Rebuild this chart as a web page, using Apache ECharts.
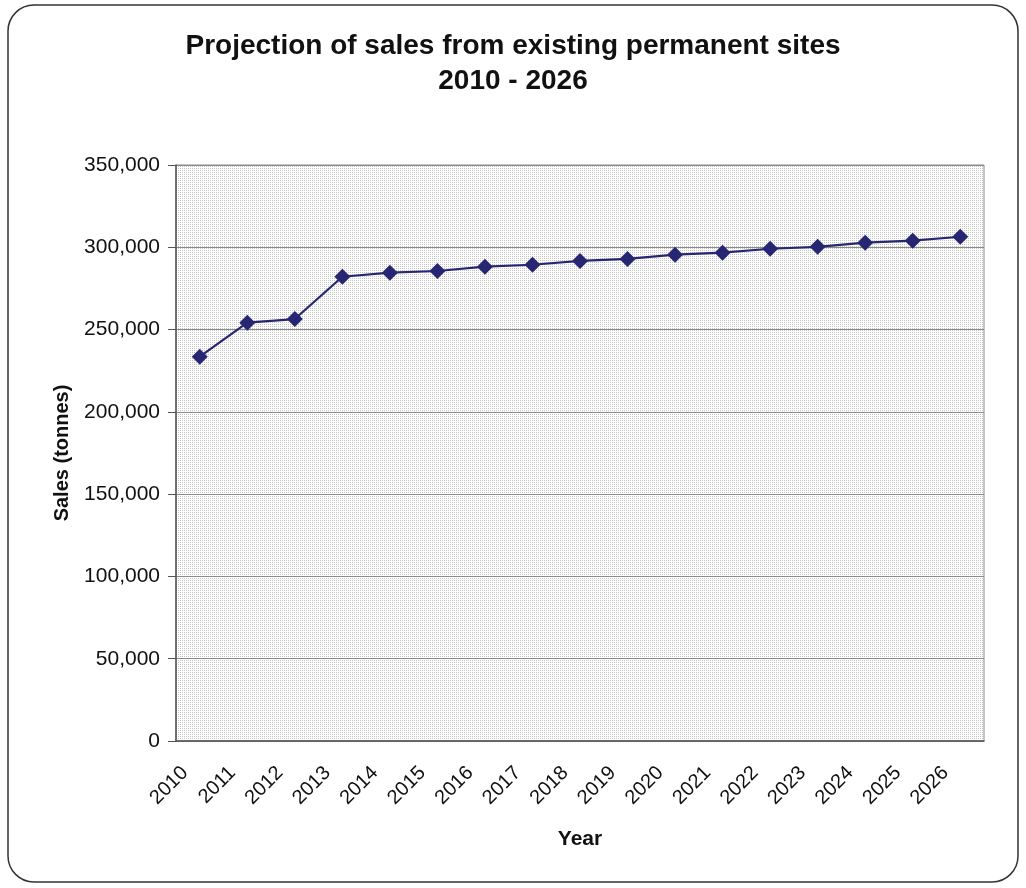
<!DOCTYPE html>
<html>
<head>
<meta charset="utf-8">
<title>Projection of sales from existing permanent sites</title>
<script src="https://cdn.jsdelivr.net/npm/echarts@6/dist/echarts.min.js"></script>
<style>
  html, body { margin: 0; padding: 0; background: #fff; }
  #chart { width: 1026px; height: 888px; }
</style>
</head>
<body>
<div id="chart"></div>
<script>
// data
const years = ['2010', '2011', '2012', '2013', '2014', '2015', '2016', '2017', '2018',
  '2019', '2020', '2021', '2022', '2023', '2024', '2025', '2026']
const sales = [233500, 254200, 256400, 282100, 284600, 285600, 288200, 289400, 291700,
  292900, 295500, 296700, 299100, 300300, 302800, 304000, 306400]
const yTicks = [0, 50000, 100000, 150000, 200000, 250000, 300000, 350000]

// dotted plot background
const dots = document.createElement('canvas')
dots.width = 2
dots.height = 2
const dctx = dots.getContext('2d')
dctx.fillStyle = '#ffffff'
dctx.fillRect(0, 0, 2, 2)
dctx.fillStyle = '#c4c4c4'
dctx.fillRect(0, 0, 1, 1)

const font = '"Liberation Sans", Arial, sans-serif'
const chart = echarts.init(document.getElementById('chart'))

const option = {
  backgroundColor: '#fff',
  animation: false,
  textStyle: { fontFamily: font },
  title: {
    text: 'Projection of sales from existing permanent sites\n2010 - 2026',
    left: 'center',
    top: 24,
    textStyle: {
      fontSize: 28,
      fontWeight: 'bold',
      color: '#111',
      lineHeight: 35,
      fontFamily: font
    }
  },
  graphic: [
    {
      type: 'rect',
      shape: { x: 8, y: 5, width: 1010, height: 877, r: 26 },
      style: { fill: 'none', stroke: '#333', lineWidth: 1.5 },
      z: -1
    }
  ],
  grid: {
    left: 176,
    right: 42,
    top: 165,
    bottom: 147,
    show: true,
    backgroundColor: { image: dots, repeat: 'repeat' },
    borderColor: '#8a8a8a',
    borderWidth: 1
  },
  xAxis: {
    type: 'category',
    data: years,
    boundaryGap: true,
    name: 'Year',
    nameLocation: 'middle',
    nameGap: 88,
    nameTextStyle: { fontSize: 21, fontWeight: 'bold', color: '#111', fontFamily: font },
    axisLine: { lineStyle: { color: '#555', width: 1.5 } },
    axisTick: { alignWithLabel: false, length: 7, lineStyle: { color: '#555' } },
    axisLabel: {
      rotate: 45,
      fontSize: 20,
      color: '#111',
      margin: 14,
      padding: [0, 21, 0, 0],
      fontFamily: font
    },
    splitLine: { show: false }
  },
  yAxis: {
    type: 'value',
    min: yTicks[0],
    max: yTicks[yTicks.length - 1],
    interval: yTicks[1] - yTicks[0],
    name: 'Sales (tonnes)',
    nameLocation: 'middle',
    nameGap: 104,
    nameTextStyle: { fontSize: 20, fontWeight: 'bold', color: '#111', fontFamily: font },
    axisLine: { show: true, lineStyle: { color: '#555', width: 1.5 } },
    axisTick: { show: true, length: 8, lineStyle: { color: '#555' } },
    axisLabel: {
      fontSize: 21,
      color: '#111',
      margin: 16,
      fontFamily: font,
      formatter: (v) => v.toLocaleString('en-US')
    },
    splitLine: { show: true, lineStyle: { color: '#8a8a8a', width: 1 } }
  },
  series: [
    {
      name: 'Sales',
      type: 'line',
      data: sales,
      symbol: 'diamond',
      symbolSize: 16,
      itemStyle: { color: '#262673' },
      lineStyle: { color: '#262673', width: 2.2 }
    }
  ]
}

chart.setOption(option)
</script>
</body>
</html>
